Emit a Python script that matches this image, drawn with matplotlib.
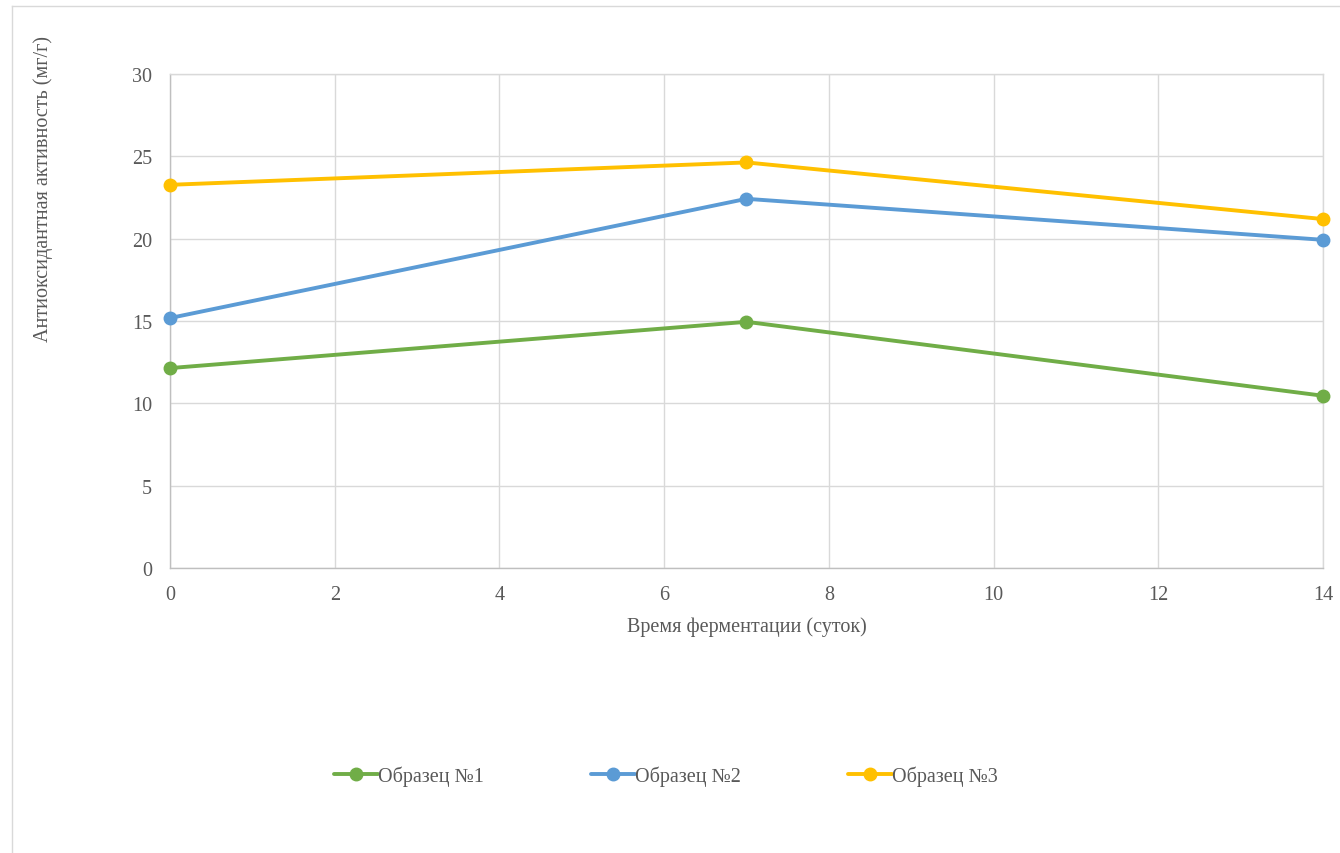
import matplotlib
matplotlib.use('Agg')
import matplotlib.pyplot as plt
from matplotlib.lines import Line2D

# fermentation time, days
days = [0, 7, 14]

# antioxidant activity, mg/g
sample1 = [12.14, 14.95, 10.46]
sample2 = [15.18, 22.42, 19.93]
sample3 = [23.27, 24.63, 21.19]

labels = ['Образец №1', 'Образец №2', 'Образец №3']
colors = ['#70AD47', '#5B9BD5', '#FFC000']

plt.rcParams['font.family'] = ['Liberation Serif', 'DejaVu Serif']
fontsz = 14.5
txtcol = '#595959'
gridcol = '#d9d9d9'

W, H = 1340, 854
fig = plt.figure(figsize=(W / 100., H / 100.), dpi=100)
fig.patch.set_facecolor('w')

# axes box in pixels: x 170..1323, y 75..569
ax = fig.add_axes([170. / W, 1 - 569. / H, (1323. - 170.) / W, (569. - 75.) / H])

for yy, lab, col in zip([sample1, sample2, sample3], labels, colors):
    ax.plot(days, yy, '-o', color=col, lw=2.8, markersize=9, label=lab,
            solid_capstyle='round', clip_on=False, zorder=3)

ax.set_xlim(0, 14)
ax.set_ylim(0, 30)
ax.set_xticks(range(0, 15, 2))
ax.set_yticks(range(0, 31, 5))
ax.grid(True, color=gridcol, lw=1)
ax.set_axisbelow(True)
for sp in ax.spines.values():
    sp.set_color(gridcol)
    sp.set_linewidth(1)
ax.spines['bottom'].set_color('#bfbfbf')
ax.spines['left'].set_color('#bfbfbf')
ax.tick_params(length=0, labelsize=fontsz, labelcolor=txtcol)
ax.tick_params(axis='y', pad=13)
ax.tick_params(axis='x', pad=12)

ax.set_xlabel('Время ферментации (суток)', fontsize=fontsz, color=txtcol, labelpad=9)
ax.set_ylabel('Антиоксидантная активность (мг/г)', fontsize=fontsz, color=txtcol, va='center')
ax.yaxis.set_label_coords((43. - 170.) / (1323. - 170.), (569. - 189.) / (569. - 75.))

leg = fig.legend(loc='center', bbox_to_anchor=(666. / W, 1 - 777. / H), ncol=3,
                 frameon=False, fontsize=fontsz, handlelength=2.2, handletextpad=0.0,
                 columnspacing=5.3)
for t in leg.get_texts():
    t.set_color(txtcol)

# chart area border (left and top edges)
fig.add_artist(Line2D([12. / W, 12. / W], [0, 1 - 7. / H], transform=fig.transFigure,
                      color=gridcol, lw=1))
fig.add_artist(Line2D([12. / W, 1], [1 - 7. / H, 1 - 7. / H], transform=fig.transFigure,
                      color=gridcol, lw=1))

fig.savefig('out.png', dpi=100)
